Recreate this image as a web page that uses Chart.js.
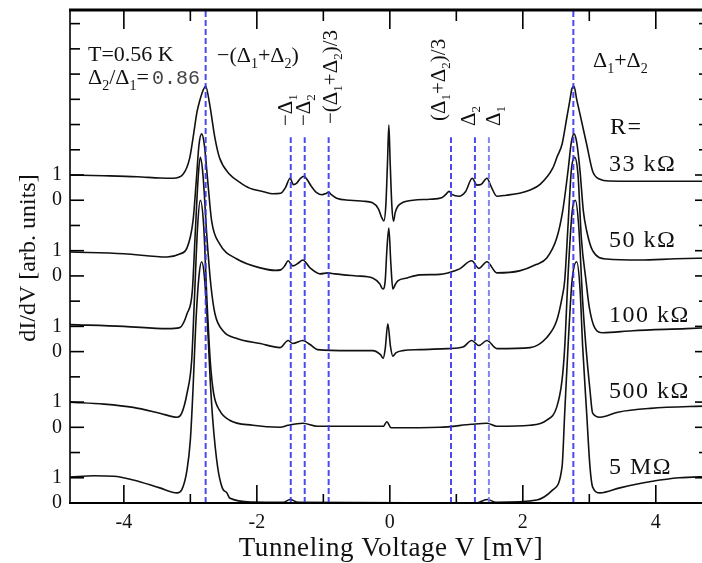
<!DOCTYPE html>
<html>
<head>
<meta charset="utf-8">
<script src="https://cdn.jsdelivr.net/npm/chart.js@4.4.0/dist/chart.umd.min.js"></script>
<style>
  html, body { margin: 0; padding: 0; overflow: hidden; background: #fff; }
  #wrap { width: 712px; height: 563px; }
</style>
</head>
<body>
<div id="wrap"><canvas id="spectra" width="712" height="563"></canvas></div>
<script>
// dI/dV spectra, one trace per junction resistance: [bias in mV, dI/dV in arb. units]
const resistances = ['33 kΩ', '50 kΩ', '100 kΩ', '500 kΩ', '5 MΩ'];
const shifts = [12, 9, 6, 3, 0];

const curve33k = [[-4.81,1.00],[-4.3,0.97],[-3.8,0.93],[-3.45,0.88],[-3.26,0.87],[-3.11,1.03],[-3.01,1.67],[-2.96,2.46],[-2.90,3.50],[-2.86,3.93],[-2.81,4.35],[-2.77,4.52],[-2.71,3.81],[-2.63,2.46],[-2.56,1.67],[-2.41,1.03],[-2.25,0.70],[-2.11,0.48],[-1.90,0.34],[-1.76,0.26],[-1.64,0.28],[-1.57,0.50],[-1.50,0.87],[-1.45,0.62],[-1.40,0.68],[-1.34,0.88],[-1.29,0.95],[-1.24,0.80],[-1.18,0.55],[-1.10,0.30],[-1.02,0.22],[-0.96,0.27],[-0.92,0.32],[-0.88,0.22],[-0.80,0.08],[-0.60,0.00],[-0.40,-0.04],[-0.26,-0.10],[-0.17,-0.35],[-0.12,-0.70],[-0.09,-0.82],[-0.06,-0.20],[-0.035,1.50],[-0.015,2.98],[0.005,1.50],[0.03,-0.20],[0.055,-0.83],[0.08,-0.50],[0.12,-0.24],[0.20,-0.08],[0.35,0.00],[0.60,0.04],[0.78,0.10],[0.85,0.25],[0.89,0.35],[0.94,0.22],[1.04,0.16],[1.14,0.35],[1.24,0.87],[1.31,0.60],[1.37,0.62],[1.46,0.87],[1.53,0.50],[1.61,0.16],[1.75,0.20],[1.95,0.28],[2.10,0.40],[2.26,0.63],[2.45,1.27],[2.52,1.75],[2.59,2.22],[2.66,3.25],[2.71,4.00],[2.74,4.44],[2.77,4.52],[2.81,4.00],[2.86,3.41],[2.96,2.22],[3.05,1.15],[3.16,0.83],[3.30,0.76],[3.70,0.75],[4.20,0.75],[4.80,0.75]];

const curve50k = [[-4.81,0.95],[-4.0,0.88],[-3.35,0.75],[-3.16,0.87],[-3.05,1.11],[-2.96,2.18],[-2.91,3.8],[-2.87,5.2],[-2.83,5.63],[-2.79,5.2],[-2.74,3.8],[-2.68,2.18],[-2.56,1.27],[-2.30,0.67],[-1.95,0.32],[-1.72,0.22],[-1.64,0.24],[-1.58,0.40],[-1.53,0.60],[-1.46,0.40],[-1.38,0.50],[-1.31,0.63],[-1.20,0.32],[-1.05,0.08],[-0.93,0.12],[-0.83,0.08],[-0.50,0.0],[-0.26,-0.08],[-0.15,-0.32],[-0.105,-0.52],[-0.07,-0.2],[-0.045,1.0],[-0.015,1.9],[0.015,0.5],[0.045,-0.52],[0.08,-0.35],[0.12,-0.2],[0.26,-0.08],[0.45,0.04],[0.75,0.06],[0.87,0.12],[1.05,0.28],[1.23,0.60],[1.34,0.30],[1.46,0.56],[1.61,0.12],[1.95,0.20],[2.20,0.45],[2.36,0.71],[2.51,1.50],[2.60,2.58],[2.68,4.17],[2.73,5.3],[2.77,5.63],[2.81,5.3],[2.86,4.17],[2.91,2.58],[2.96,1.79],[3.05,1.00],[3.26,0.67],[3.76,0.63],[4.30,0.68],[4.80,0.71]];

const curve100k = [[-4.81,1.07],[-4.0,1.0],[-3.35,0.91],[-3.16,0.95],[-3.05,1.5],[-2.97,2.42],[-2.93,4.5],[-2.88,7.0],[-2.85,7.7],[-2.81,7.0],[-2.75,4.5],[-2.69,2.6],[-2.63,1.5],[-2.51,0.83],[-2.30,0.52],[-1.95,0.32],[-1.65,0.16],[-1.53,0.44],[-1.46,0.32],[-1.31,0.44],[-1.20,0.28],[-1.09,0.08],[-0.60,0.04],[-0.26,0.04],[-0.14,-0.12],[-0.10,-0.26],[-0.07,0.1],[-0.03,1.1],[0.01,0.2],[0.045,-0.18],[0.09,-0.05],[0.20,0.04],[0.45,0.08],[0.87,0.12],[1.10,0.18],[1.23,0.44],[1.34,0.24],[1.46,0.44],[1.61,0.12],[2.11,0.16],[2.36,0.56],[2.51,1.23],[2.59,2.14],[2.63,2.82],[2.68,5.0],[2.73,7.2],[2.78,7.7],[2.83,7.0],[2.88,4.5],[2.95,2.82],[3.0,1.75],[3.08,0.95],[3.20,0.75],[3.65,0.83],[4.46,0.91],[4.80,0.95]];

const curve500k = [[-4.81,1.0],[-4.3,0.92],[-3.86,0.79],[-3.46,0.56],[-3.20,0.40],[-3.13,0.56],[-3.05,1.35],[-2.98,2.66],[-2.94,5.0],[-2.89,8.0],[-2.85,9.0],[-2.80,8.0],[-2.75,5.0],[-2.70,2.6],[-2.65,1.35],[-2.56,0.67],[-2.41,0.28],[-2.06,0.08],[-1.65,0.0],[-1.53,0.08],[-1.31,0.16],[-1.09,0.04],[-0.10,0.04],[-0.045,0.22],[0.02,-0.02],[0.75,0.0],[1.23,0.12],[1.46,0.16],[1.61,0.04],[2.11,0.08],[2.36,0.28],[2.51,0.80],[2.59,1.87],[2.63,3.17],[2.68,6.0],[2.74,8.5],[2.79,9.0],[2.84,8.0],[2.90,5.0],[2.95,3.17],[3.01,1.47],[3.05,0.56],[3.16,0.40],[3.43,0.60],[3.92,0.75],[4.80,0.85]];

const curve5M = [[-4.81,1.03],[-4.45,1.08],[-4.15,1.06],[-3.86,0.91],[-3.46,0.60],[-3.20,0.40],[-3.13,0.52],[-3.05,1.31],[-3.00,2.5],[-2.96,4.5],[-2.92,7.0],[-2.87,9.0],[-2.83,9.56],[-2.79,9.0],[-2.74,7.0],[-2.70,4.8],[-2.66,3.2],[-2.59,1.43],[-2.52,0.6],[-2.45,0.4],[-2.41,0.2],[-2.06,0.04],[-1.60,0.03],[-1.50,0.14],[-1.38,0.03],[1.30,0.0],[1.46,0.14],[1.60,0.03],[2.21,0.12],[2.45,0.52],[2.59,1.43],[2.63,3.57],[2.68,6.2],[2.74,8.8],[2.81,9.56],[2.86,8.5],[2.90,6.2],[2.96,3.57],[3.01,1.43],[3.05,0.63],[3.16,0.40],[3.46,0.60],[3.95,0.86],[4.35,1.00],[4.80,1.05]];

const curves = [curve33k, curve50k, curve100k, curve500k, curve5M];

// gap features: ±(Δ1+Δ2), ±Δ1, ±Δ2, ±(Δ1+Δ2)/3  (mV)
const markerV = [-2.77, -1.49, -1.28, -0.92, 0.92, 1.28, 1.49, 2.76];
const markerTop = [19.6, 14.5, 14.5, 14.5, 14.5, 14.5, 14.5, 19.6];

const xMajor = [-4, -2, 0, 2, 4];
const xMinor = [-3, -1, 1, 3];
const yTicks = [0,1,2,3,4,5,6,7,8,9,10,11,12,13,14,15,16,17,18,19];
const yLabelled = [0, 1, 3, 4, 6, 7, 9, 10, 12, 13];
const yLabelText = ['0', '1', '0', '1', '0', '1', '0', '1', '0', '1'];

const SERIF = '"Liberation Serif", "Times New Roman", serif';
const MONO = '"Liberation Mono", "DejaVu Sans Mono", monospace';

const datasets = [];
markerV.forEach((v, i) => {
  datasets.push({
    data: [{x: v, y: 0}, {x: v, y: markerTop[i]}],
    borderColor: i === 6 ? 'rgba(120,120,240,0.9)' : 'rgba(55,55,235,0.9)',
    borderWidth: 2,
    borderDash: [6, 3],
    pointRadius: 0,
    showLine: true
  });
});
curves.forEach((c, i) => {
  datasets.push({
    data: c.map(p => ({x: p[0], y: p[1] + shifts[i]})),
    borderColor: '#111',
    borderWidth: 1.6,
    pointRadius: 0,
    showLine: true,
    cubicInterpolationMode: 'monotone'
  });
});

// draw text made of normal and subscript pieces; subscripts are given as [text]
function rich(ctx, parts, x, y, size, font) {
  let cx = x;
  parts.forEach(p => {
    const sub = Array.isArray(p);
    const t = sub ? p[0] : p;
    ctx.font = (sub ? Math.round(size * 0.62) : size) + 'px ' + (font || SERIF);
    ctx.fillText(t, cx, sub ? y + size * 0.26 : y);
    cx += ctx.measureText(t).width;
  });
}

function seg(ctx, x1, y1, x2, y2) {
  ctx.beginPath();
  ctx.moveTo(x1, y1);
  ctx.lineTo(x2, y2);
  ctx.stroke();
}

const frame = {
  id: 'frame',
  afterDraw(chart) {
    const {ctx, chartArea: a, scales: {x, y}} = chart;
    ctx.save();
    ctx.strokeStyle = '#000';
    ctx.fillStyle = '#111';

    // ticks, pointing inwards on all four sides
    ctx.lineWidth = 1.6;
    xMajor.forEach(v => {
      const px = x.getPixelForValue(v);
      seg(ctx, px, a.bottom, px, a.bottom - 18);
      seg(ctx, px, a.top, px, a.top + 19);
    });
    xMinor.forEach(v => {
      const px = x.getPixelForValue(v);
      seg(ctx, px, a.bottom, px, a.bottom - 9);
      seg(ctx, px, a.top, px, a.top + 11);
    });
    yTicks.forEach(v => {
      const py = y.getPixelForValue(v);
      const len = yLabelled.includes(v) ? 14 : 10;
      seg(ctx, a.left, py, a.left + len, py);
      seg(ctx, a.right, py, a.right - len, py);
    });

    // frame
    ctx.lineWidth = 1.6;
    seg(ctx, a.left, a.top, a.left, a.bottom);
    seg(ctx, a.right, a.top, a.right, a.bottom);
    ctx.lineWidth = 2.2;
    seg(ctx, a.left - 1, a.bottom, a.right, a.bottom);
    ctx.lineWidth = 3;
    seg(ctx, a.left - 1, a.top, a.right, a.top);

    // tick labels
    ctx.font = '20px ' + SERIF;
    ctx.textAlign = 'center';
    ctx.textBaseline = 'middle';
    xMajor.forEach(v => ctx.fillText(String(v), x.getPixelForValue(v), a.bottom + 20));
    ctx.textAlign = 'right';
    yLabelled.forEach((v, i) => ctx.fillText(yLabelText[i], a.left - 8, y.getPixelForValue(v)));

    // axis titles
    ctx.textAlign = 'center';
    ctx.font = '27px ' + SERIF;
    ctx.letterSpacing = '0.6px';
    ctx.fillText('Tunneling Voltage V [mV]', 391, a.bottom + 46);
    ctx.letterSpacing = '0px';
    ctx.save();
    ctx.translate(29, 258);
    ctx.rotate(-Math.PI / 2);
    ctx.font = '24px ' + SERIF;
    ctx.fillText('dI/dV [arb. units]', 0, 0);
    ctx.restore();

    // annotations
    ctx.textAlign = 'left';
    ctx.textBaseline = 'alphabetic';
    ctx.font = '22px ' + SERIF;
    ctx.fillText('T=0.56 K', 88, 61);
    rich(ctx, ['Δ', ['2'], '/Δ', ['1'], '='], 88, 84, 22);
    ctx.fillStyle = '#444';
    ctx.font = '20px ' + MONO;
    ctx.fillText('0.86', 152, 84);
    ctx.fillStyle = '#111';
    rich(ctx, ['−(Δ', ['1'], '+Δ', ['2'], ')'], 217, 62, 22);
    rich(ctx, ['Δ', ['1'], '+Δ', ['2']], 593, 67, 22);

    // rotated labels above the dashed lines: [x centre, lower end, pieces]
    const tags = [
      [285, 126, ['−Δ', ['1']]],
      [303, 126, ['−Δ', ['2']]],
      [330, 124, ['−(Δ', ['1'], '+Δ', ['2'], ')/3']],
      [438, 121, ['(Δ', ['1'], '+Δ', ['2'], ')/3']],
      [468, 126, ['Δ', ['2']]],
      [493, 126, ['Δ', ['1']]]
    ];
    tags.forEach(t => {
      ctx.save();
      ctx.translate(t[0] + 7, t[1]);
      ctx.rotate(-Math.PI / 2);
      rich(ctx, t[2], 0, 0, 21);
      ctx.restore();
    });

    // resistance labels at the right
    ctx.font = '24px ' + SERIF;
    ctx.letterSpacing = '1.5px';
    ctx.fillText('R=', 610, 134);
    shifts.forEach((s, i) => {
      const py = y.getPixelForValue(s + 1) - 4;
      ctx.fillText(resistances[i], 609, py);
    });
    ctx.letterSpacing = '0px';
    ctx.restore();
  }
};

new Chart(document.getElementById('spectra'), {
  type: 'scatter',
  data: {datasets},
  options: {
    responsive: false,
    animation: false,
    devicePixelRatio: 1,
    layout: {padding: {left: 70, top: 10, right: 3, bottom: 60}},
    plugins: {legend: {display: false}, tooltip: {enabled: false}},
    scales: {
      x: {type: 'linear', min: -4.81, max: 4.8, display: false},
      y: {type: 'linear', min: 0, max: 19.54, display: false}
    }
  },
  plugins: [frame]
});
</script>
</body>
</html>
